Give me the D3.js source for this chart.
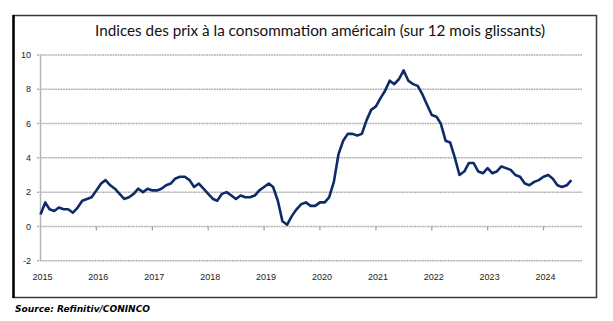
<!DOCTYPE html>
<html lang="fr">
<head>
    <meta charset="UTF-8">
    <title>Indices des prix</title>
    <script src="https://d3js.org/d3.v7.min.js" charset="utf-8"></script>
    <style>
        body { margin: 0; background: #fff; }
        svg { display: block; }
    </style>
</head>
<body>
    <div id="vis"></div>

    <script>

        var width = 613;
        var height = 321;

        // monthly values, first point placed at the "2015" tick of the chart
        var startMonth = "2015-01";
        var cpi = [
            0.7,
            1.4, 1.0, 0.9, 1.1, 1.0, 1.0, 0.8, 1.1, 1.5, 1.6, 1.7, 2.1,
            2.5, 2.7, 2.4, 2.2, 1.9, 1.6, 1.7, 1.9, 2.2, 2.0, 2.2, 2.1,
            2.1, 2.2, 2.4, 2.5, 2.8, 2.9, 2.9, 2.7, 2.3, 2.5, 2.2, 1.9,
            1.6, 1.5, 1.9, 2.0, 1.8, 1.6, 1.8, 1.7, 1.7, 1.8, 2.1, 2.3,
            2.5, 2.3, 1.5, 0.3, 0.1, 0.6, 1.0, 1.3, 1.4, 1.2, 1.2, 1.4,
            1.4, 1.7, 2.6, 4.2, 5.0, 5.4, 5.4, 5.3, 5.4, 6.2, 6.8, 7.0,
            7.5, 7.9, 8.5, 8.3, 8.6, 9.1, 8.5, 8.3, 8.2, 7.7, 7.1, 6.5,
            6.4, 6.0, 5.0, 4.9, 4.0, 3.0, 3.2, 3.7, 3.7, 3.2, 3.1, 3.4,
            3.1, 3.2, 3.5, 3.4, 3.3, 3.0, 2.9, 2.5, 2.4, 2.6, 2.7, 2.9,
            3.0, 2.8, 2.4, 2.3, 2.4, 2.7
        ];

        var yearTicks = [2015, 2016, 2017, 2018, 2019, 2020, 2021, 2022, 2023, 2024];
        var yTicks = [-2, 0, 2, 4, 6, 8, 10];

        var title = "Indices des prix à la consommation américain (sur 12 mois glissants)";
        var source = "Source: Refinitiv/CONINCO";

        var parseMonth = d3.timeParse("%Y-%m");
        var start = parseMonth(startMonth);
        var data = cpi.map(function(v, i) {
            return { date: d3.timeMonth.offset(start, i), value: v };
        });

        var svg = d3.select("#vis")
            .append("svg")
              .attr("width", width)
              .attr("height", height);

        // frame
        svg.append("rect")
            .attr("x", 13.5)
            .attr("y", 15.5)
            .attr("width", 583)
            .attr("height", 282)
            .attr("fill", "#fff")
            .attr("stroke", "#3a3a3a")
            .attr("stroke-width", 1.5);
        svg.append("line")
            .attr("x1", 13.5).attr("x2", 13.5)
            .attr("y1", 15).attr("y2", 298)
            .attr("stroke", "#000")
            .attr("stroke-width", 2.5);

        var x_scale = d3.scaleTime()
            .domain([new Date(2015, 0, 1), new Date(2025, 0, 1)])
            .range([40.5, 599.5]);

        var y_scale = d3.scaleLinear()
            .domain([-2, 10])
            .range([260.7, 55]);

        var plotRight = 582;

        // gridlines
        svg.append("g")
            .selectAll("line")
            .data(yTicks)
            .enter()
            .append("line")
              .attr("x1", 37)
              .attr("x2", plotRight)
              .attr("y1", function(d) { return y_scale(d); })
              .attr("y2", function(d) { return y_scale(d); })
              .attr("stroke", "#b4b4b4")
              .attr("stroke-width", 1.5)
              .attr("stroke-dasharray", "2,0.6");

        // vertical axis line
        svg.append("line")
            .attr("x1", 40.5).attr("x2", 40.5)
            .attr("y1", y_scale(10)).attr("y2", y_scale(-2))
            .attr("stroke", "#b4b4b4")
            .attr("stroke-width", 1.5);

        // year ticks on the zero line
        svg.append("g")
            .selectAll("line")
            .data(yearTicks.slice(1))
            .enter()
            .append("line")
              .attr("x1", function(d) { return x_scale(new Date(d, 0, 1)); })
              .attr("x2", function(d) { return x_scale(new Date(d, 0, 1)); })
              .attr("y1", y_scale(0))
              .attr("y2", y_scale(0) + 4)
              .attr("stroke", "#a0a0a0")
              .attr("stroke-width", 1.2);

        // y labels
        svg.append("g")
            .selectAll("text")
            .data(yTicks)
            .enter()
            .append("text")
              .attr("x", 31)
              .attr("y", function(d) { return y_scale(d); })
              .attr("dy", "0.35em")
              .attr("text-anchor", "end")
              .attr("font-family", "Liberation Sans, sans-serif")
              .attr("font-size", 9)
              .attr("fill", "#222")
              .text(function(d) { return d; });

        // x labels
        svg.append("g")
            .selectAll("text")
            .data(yearTicks)
            .enter()
            .append("text")
              .attr("x", function(d) { return x_scale(new Date(d, 0, 1)) + 2; })
              .attr("y", 279.5)
              .attr("text-anchor", "middle")
              .attr("font-family", "Liberation Sans, sans-serif")
              .attr("font-size", 9)
              .attr("fill", "#222")
              .text(function(d) { return d; });

        // series
        var line = d3.line()
            .x(function(d) { return x_scale(d.date); })
            .y(function(d) { return y_scale(d.value); });

        svg.append("path")
            .datum(data)
            .attr("d", line)
            .attr("fill", "none")
            .attr("stroke", "#0f2a68")
            .attr("stroke-width", 2.6)
            .attr("stroke-linejoin", "round");

        // title
        svg.append("text")
            .attr("x", 320)
            .attr("y", 36)
            .attr("text-anchor", "middle")
            .attr("font-family", "Lato, sans-serif")
            .attr("font-size", 14.5)
            .attr("fill", "#111")
            .attr("textLength", 450)
            .attr("lengthAdjust", "spacingAndGlyphs")
            .text(title);

        // source
        svg.append("text")
            .attr("x", 15)
            .attr("y", 312)
            .attr("font-family", "DejaVu Sans, sans-serif")
            .attr("font-size", 9.5)
            .attr("font-weight", "bold")
            .attr("font-style", "italic")
            .attr("fill", "#000")
            .attr("textLength", 135)
            .attr("lengthAdjust", "spacingAndGlyphs")
            .text(source);

    </script>
</body>
</html>
